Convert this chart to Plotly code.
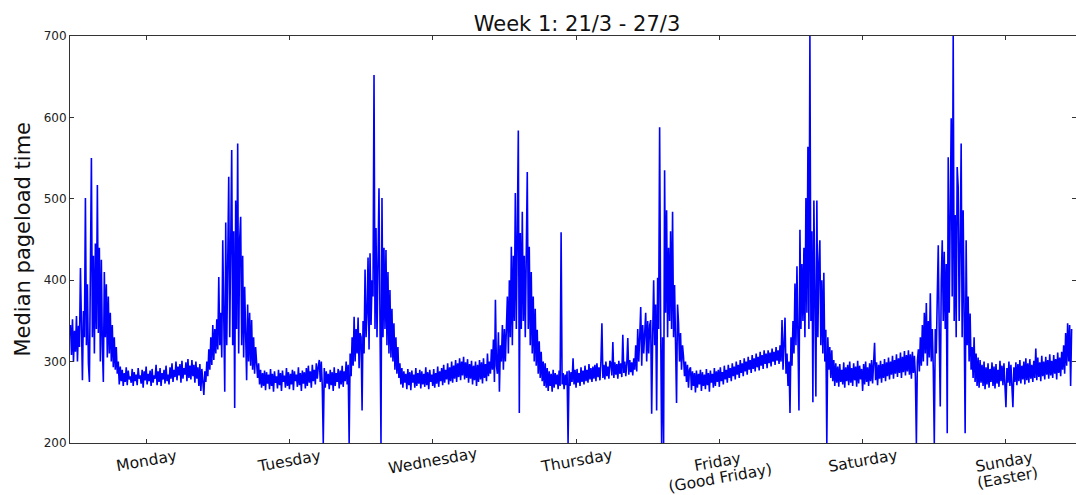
import math
import pandas as pd
import plotly.graph_objects as go

# Median pageload time, one value every 10 minutes
monday = [345, 308, 352, 300,
          338, 312, 356, 300, 344, 318, 415, 305, 277, 362, 330, 501,
          320, 395, 298, 275, 410, 550, 330, 430, 310, 445, 340, 517,
          335, 440, 300, 425, 320, 275, 410, 330, 395, 305, 380, 310,
          360, 300, 345, 293, 330, 290, 318, 285, 300, 272, 294, 276,
          290, 270, 286, 275, 293, 271, 289, 278, 282, 274, 291, 270,
          287, 276, 284, 271, 292, 279, 283, 273, 290, 268, 288, 277,
          294, 272, 285, 276, 289, 270, 291, 274, 283, 279, 296, 271,
          288, 275, 292, 270, 286, 278, 290, 273, 295, 276, 284, 272,
          293, 279, 298, 275, 290, 281, 300, 277, 294, 283, 297, 274,
          301, 279, 292, 284, 299, 276, 303, 280, 295, 278, 302, 282,
          296, 274, 300, 279, 293, 270, 297, 264, 291, 268, 259, 288,
          275, 300, 282, 315, 290, 330, 296, 345, 302, 340, 310, 352]
tuesday = [315, 404, 320, 360, 305, 449, 330, 263, 471, 320, 420, 527,
           330, 440, 560, 320, 460, 243, 498, 340, 568, 310, 450, 478,
           320, 430, 305, 392, 330, 277, 370, 300, 360, 295, 351, 290,
           330, 285, 318, 302, 280, 298, 272, 290, 268, 286, 270, 289,
           265, 287, 273, 284, 266, 291, 270, 285, 263, 288, 274, 282,
           267, 290, 271, 286, 264, 289, 275, 283, 268, 292, 270, 287,
           266, 285, 272, 290, 265, 288, 276, 284, 269, 293, 271, 286,
           264, 289, 273, 287, 267, 292, 270, 295, 274, 288, 268, 296,
           276, 290, 272, 298, 279, 294, 302, 275, 300, 270, 200, 292,
           268, 288, 273, 285, 266, 290, 271, 287, 264, 293, 270, 286,
           275, 291, 267, 289, 272, 295, 269, 288, 276, 300, 272, 296,
           200, 310, 282, 330, 295, 355, 300, 340, 310, 354, 292, 335]
wednesday = [330, 240, 350, 310, 413, 330, 360, 428, 315, 433, 345, 400,
             380, 652, 340, 464, 330, 420, 513, 350, 200, 501, 330, 440,
             340, 437, 320, 410, 310, 388, 305, 365, 300, 347, 290, 330,
             285, 318, 280, 298, 272, 292, 268, 288, 274, 285, 266, 291,
             271, 287, 265, 289, 274, 284, 268, 292, 270, 286, 273, 290,
             267, 288, 272, 285, 269, 293, 271, 287, 266, 290, 275, 284,
             270, 291, 268, 286, 273, 294, 269, 288, 276, 292, 271, 296,
             274, 290, 278, 298, 272, 293, 276, 300, 274, 295, 279, 302,
             275, 298, 281, 304, 277, 300, 283, 306, 278, 299, 280, 303,
             274, 297, 279, 301, 272, 295, 277, 300, 270, 296, 275, 302,
             278, 299, 273, 304, 280, 297, 276, 310, 282, 300, 285, 315,
             290, 327, 275, 376, 295, 285, 336, 263, 320, 300, 345, 290]
thursday = [340, 300, 360, 380, 310, 400, 330, 441, 320, 430, 350, 507,
            340, 460, 584, 237, 458, 340, 484, 350, 430, 330, 460, 533,
            340, 441, 320, 410, 310, 380, 300, 365, 295, 339, 285, 325,
            280, 312, 276, 300, 270, 298, 268, 292, 264, 288, 270, 285,
            263, 290, 268, 286, 272, 284, 266, 289, 270, 459, 272, 286,
            266, 284, 271, 288, 200, 289, 270, 287, 275, 304, 272, 290,
            268, 291, 274, 286, 270, 293, 275, 289, 272, 295, 276, 290,
            274, 297, 278, 292, 275, 294, 279, 296, 276, 298, 281, 293,
            277, 299, 347, 280, 296, 278, 300, 282, 294, 279, 301, 298,
            283, 324, 280, 299, 284, 297, 279, 301, 285, 298, 281, 333,
            286, 300, 282, 297, 329, 284, 302, 287, 299, 283, 304, 290,
            320, 288, 340, 300, 330, 367, 295, 345, 310, 338, 360, 300]
friday = [350, 310, 345, 351, 236, 330, 400, 320, 370, 240, 403, 340,
          588, 350, 200, 330, 200, 535, 360, 486, 330, 440, 350, 460,
          340, 484, 330, 394, 320, 249, 370, 347, 300, 335, 290, 320,
          306, 282, 300, 275, 296, 268, 290, 293, 265, 288, 270, 286,
          262, 289, 268, 285, 272, 290, 264, 287, 270, 284, 266, 291,
          271, 286, 263, 289, 274, 285, 268, 292, 270, 288, 275, 290,
          269, 293, 276, 287, 272, 295, 278, 290, 274, 296, 280, 292,
          276, 298, 282, 294, 278, 300, 284, 296, 280, 302, 286, 298,
          282, 304, 288, 300, 284, 306, 290, 302, 286, 308, 291, 304,
          288, 310, 293, 306, 289, 312, 295, 308, 291, 314, 297, 310,
          292, 314, 298, 311, 294, 316, 300, 312, 296, 318, 301, 314,
          297, 320, 300, 351, 290, 330, 354, 285, 310, 270, 300, 237]
saturday = [330, 295, 350, 310, 396, 320, 417, 330, 240, 462, 340, 420,
            350, 440, 330, 501, 360, 564, 340, 700, 350, 460, 250, 498,
            340, 257, 498, 330, 420, 449, 320, 400, 310, 409, 300, 339,
            200, 330, 290, 318, 280, 314, 276, 302, 270, 298, 274, 294,
            269, 297, 275, 290, 272, 299, 268, 293, 276, 296, 271, 300,
            274, 292, 270, 298, 277, 294, 269, 301, 273, 295, 278, 291,
            264, 297, 272, 300, 275, 293, 270, 298, 276, 302, 273, 295,
            323, 277, 299, 271, 296, 279, 301, 274, 297, 280, 303, 276,
            299, 282, 305, 278, 300, 284, 307, 279, 302, 285, 309, 281,
            304, 286, 311, 280, 306, 287, 313, 283, 308, 288, 314, 284,
            309, 279, 312, 286, 307, 282, 200, 300, 315, 288, 330, 295,
            345, 300, 360, 310, 372, 295, 350, 305, 384, 300, 340, 290]
sunday = [200, 340, 310, 380, 443, 330, 245, 400, 449, 350, 435, 340,
          420, 212, 551, 360, 470, 599, 380, 700, 350, 480, 330, 539,
          515, 350, 440, 568, 330, 486, 360, 212, 449, 320, 380, 300,
          359, 290, 318, 280, 330, 275, 310, 270, 305, 268, 302, 274,
          296, 270, 300, 266, 293, 272, 298, 268, 291, 275, 299, 270,
          294, 267, 297, 273, 290, 269, 301, 276, 295, 271, 298, 265,
          244, 292, 274, 300, 270, 296, 268, 244, 293, 275, 299, 271,
          297, 276, 302, 273, 295, 278, 300, 272, 304, 277, 298, 274,
          303, 279, 296, 275, 301, 280, 316, 277, 305, 281, 299, 276,
          307, 282, 300, 278, 306, 284, 302, 279, 309, 283, 301, 280,
          308, 285, 303, 278, 311, 286, 305, 282, 312, 290, 320, 285,
          335, 295, 347, 300, 345, 270, 340]

series_start = "2016-03-20 23:20"
sample_freq = "10min"
day_labels = ["Monday", "Tuesday", "Wednesday", "Thursday",
              "Friday<br>(Good Friday)", "Saturday", "Sunday<br>(Easter)"]
day_ticks = pd.date_range("2016-03-21 12:00", periods=7, freq="D")
y_ticks = [200, 300, 400, 500, 600, 700]

values = monday + tuesday + wednesday + thursday + friday + saturday + sunday
times = pd.date_range(series_start, periods=len(values), freq=sample_freq)

FONT = "DejaVu Sans"
W, H = 1076, 495
ML, MR, MT, MB = 70, 0, 36, 52
plot_h = H - MT - MB
ANGLE = 10
LINE_STEP = 17

fig = go.Figure()
fig.add_trace(go.Scatter(x=times, y=values, mode="lines",
                         line=dict(color="#0000ff", width=1.6),
                         showlegend=False, hoverinfo="skip"))

annotations = []
for t, lab in zip(day_ticks, day_labels):
    lines = lab.split("<br>")
    n = len(lines)
    center_px = 470 if n > 1 else 461
    for k, line in enumerate(lines):
        d = (k - (n - 1) / 2) * LINE_STEP
        dx = d * math.sin(math.radians(ANGLE))
        dy = d * math.cos(math.radians(ANGLE))
        annotations.append(dict(
            x=t, xref="x", y=(H - MB - center_px) / plot_h, yref="paper",
            xshift=dx, yshift=-dy,
            text=line, showarrow=False, textangle=-ANGLE,
            xanchor="center", yanchor="middle",
            font=dict(family=FONT, size=15.5, color="#111")))
annotations.append(dict(
    x=(22 - ML) / (W - ML - MR), xref="paper", y=0.5, yref="paper",
    text="Median pageload time", showarrow=False, textangle=-90,
    xanchor="center", yanchor="middle",
    font=dict(family=FONT, size=21, color="#111")))

fig.update_layout(
    width=W, height=H,
    margin=dict(l=ML, r=MR, t=MT, b=MB, pad=0),
    paper_bgcolor="white", plot_bgcolor="white",
    font=dict(family=FONT, color="#111"),
    title=dict(text="Week 1: 21/3 - 27/3", x=577 / W, xref="container",
               xanchor="center", y=1 - 23.5 / H, yanchor="middle",
               font=dict(family=FONT, size=21, color="#111")),
    annotations=annotations,
)
fig.update_xaxes(
    type="date", range=["2016-03-20 23:15", "2016-03-27 23:44"],
    tickvals=day_ticks, showticklabels=False,
    ticks="inside", ticklen=4, tickcolor="#333", tickwidth=1,
    showline=True, linecolor="#333", linewidth=1, mirror="ticks",
    showgrid=False, zeroline=False)
fig.update_yaxes(
    range=[200, 700], tickvals=y_ticks,
    ticks="inside", ticklen=4, tickcolor="#333", tickwidth=1,
    showline=True, linecolor="#333", linewidth=1, mirror="ticks",
    showgrid=False, zeroline=False,
    tickfont=dict(family=FONT, size=12, color="#222"))

fig.write_html("out.html")
